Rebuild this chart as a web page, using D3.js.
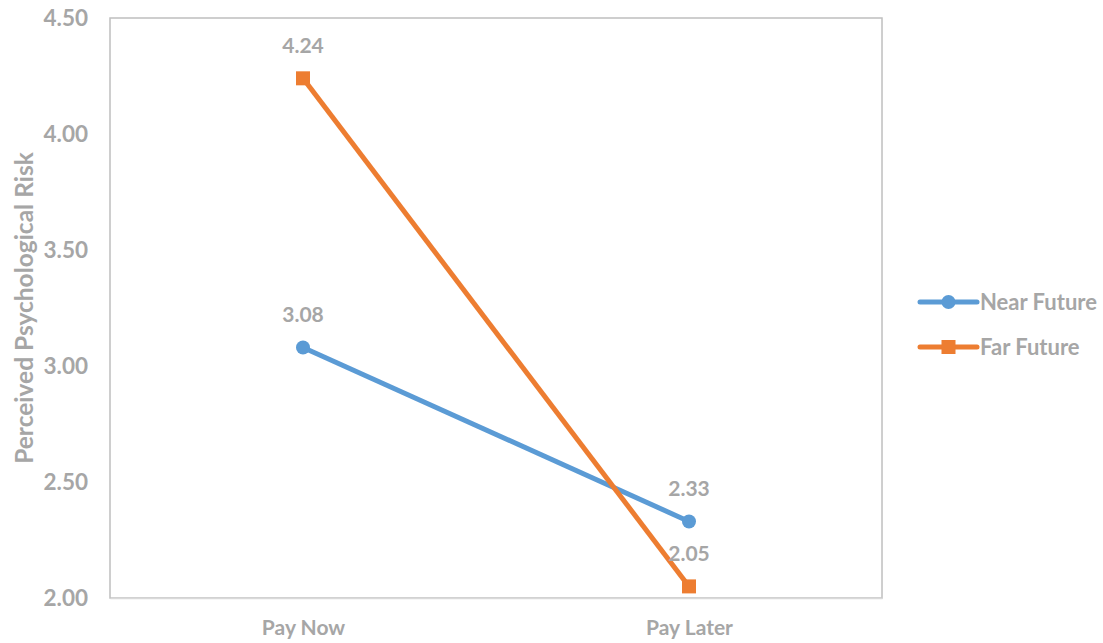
<!DOCTYPE html>
<html>
<head>
<meta charset="utf-8">
<script src="https://cdn.jsdelivr.net/npm/d3@7"></script>
<style>
  body { margin: 0; background: #fff; }
  text { font-family: Lato, "Open Sans", sans-serif; font-weight: bold; fill: #a6a6a6; }
</style>
</head>
<body>
<div id="chart"></div>
<script>
'use strict';

const categories = ["Pay Now", "Pay Later"];
const seriesNames = ["Near Future", "Far Future"];
const nearFuture = [3.08, 2.33];
const farFuture = [4.24, 2.05];
const yTicks = [2.00, 2.50, 3.00, 3.50, 4.00, 4.50];
const colors = ["#5b9bd5", "#ed7d31"];

const W = 1103, H = 643;
const plot = { left: 110, right: 882, top: 18, bottom: 598 };

const svg = d3.select("#chart").append("svg")
    .attr("width", W)
    .attr("height", H);

const x = d3.scalePoint()
    .domain(categories)
    .range([plot.left, plot.right])
    .padding(0.5);

const y = d3.scaleLinear()
    .domain([2, 4.5])
    .range([plot.bottom, plot.top]);

// plot frame
svg.append("rect")
    .attr("x", plot.left).attr("y", plot.top)
    .attr("width", plot.right - plot.left)
    .attr("height", plot.bottom - plot.top)
    .attr("fill", "none")
    .attr("stroke", "#bfbfbf")
    .attr("stroke-width", 1.5);

// y axis
const yAxis = svg.append("g")
    .attr("transform", "translate(" + plot.left + ",0)")
    .call(d3.axisLeft(y).tickValues(yTicks).tickFormat(d3.format(".2f")).tickSize(0).tickPadding(22));
yAxis.select(".domain").remove();
yAxis.selectAll("text").style("font-size", "22.5px").attr("fill", "#a6a6a6");

// x axis
const xAxis = svg.append("g")
    .attr("transform", "translate(0," + plot.bottom + ")")
    .call(d3.axisBottom(x).tickSize(0).tickPadding(22));
xAxis.select(".domain").attr("stroke", "#d9d9d9").attr("stroke-width", 1.5);
xAxis.selectAll("text").style("font-size", "21px").attr("fill", "#a6a6a6");

// y axis title
svg.append("text")
    .attr("transform", "translate(33," + ((plot.top + plot.bottom) / 2) + ") rotate(-90)")
    .style("text-anchor", "middle")
    .style("font-size", "24.5px")
    .text("Perceived Psychological Risk");

const series = [
    { name: seriesNames[0], values: nearFuture, color: colors[0], marker: "circle", labelDy: -32 },
    { name: seriesNames[1], values: farFuture, color: colors[1], marker: "square", labelDy: -32 }
];

const line = d3.line()
    .x((d, i) => x(categories[i]))
    .y(d => y(d));

series.forEach(s => {
    svg.append("path")
        .datum(s.values)
        .attr("fill", "none")
        .attr("stroke", s.color)
        .attr("stroke-width", 5)
        .attr("d", line);

    s.values.forEach((v, i) => {
        const cx = x(categories[i]), cy = y(v);
        if (s.marker === "circle") {
            svg.append("circle").attr("cx", cx).attr("cy", cy).attr("r", 7).attr("fill", s.color);
        } else {
            svg.append("rect").attr("x", cx - 7).attr("y", cy - 7).attr("width", 14).attr("height", 14).attr("fill", s.color);
        }
        svg.append("text")
            .attr("x", cx)
            .attr("y", cy + s.labelDy + 7)
            .style("text-anchor", "middle")
            .style("font-size", "21px")
            .text(d3.format(".2f")(v));
    });
});

// legend
const legend = svg.append("g").attr("transform", "translate(920,302)");
series.forEach((s, i) => {
    const g = legend.append("g").attr("transform", "translate(0," + (i * 45) + ")");
    g.append("line").attr("x1", 0).attr("x2", 57).attr("y1", 0).attr("y2", 0)
        .attr("stroke", s.color).attr("stroke-width", 5).attr("stroke-linecap", "round");
    if (s.marker === "circle") {
        g.append("circle").attr("cx", 28.5).attr("cy", 0).attr("r", 7).attr("fill", s.color);
    } else {
        g.append("rect").attr("x", 21.5).attr("y", -7).attr("width", 14).attr("height", 14).attr("fill", s.color);
    }
    g.append("text").attr("x", 60).attr("y", 8).style("font-size", "22px").text(s.name);
});
</script>
</body>
</html>
